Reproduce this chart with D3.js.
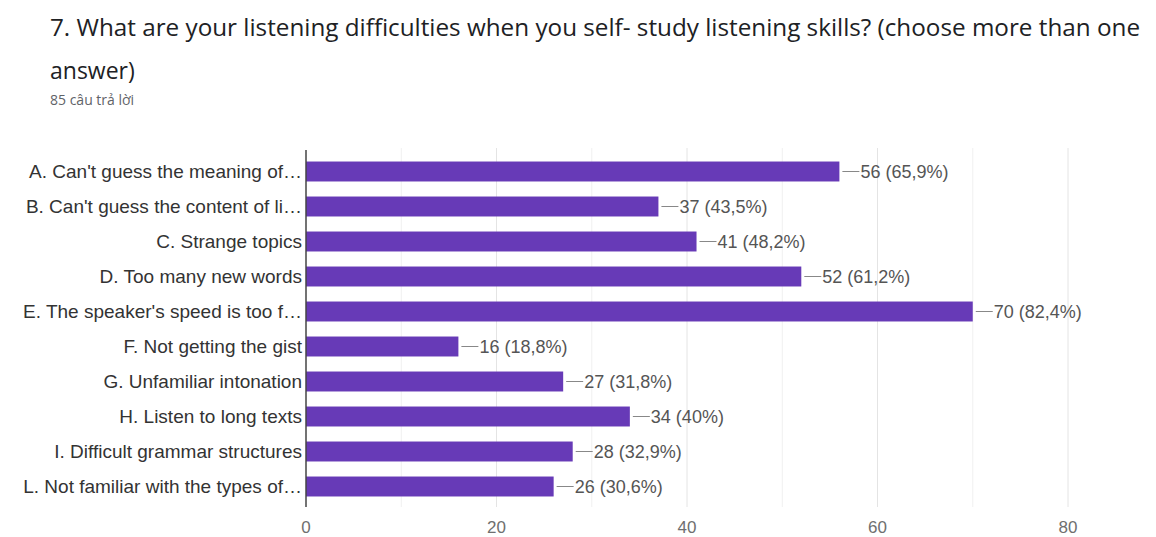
<!DOCTYPE html>
<html>
<head>
<meta charset="utf-8">
<script src="https://cdn.jsdelivr.net/npm/d3@7"></script>
<style>
  body { margin: 0; background: #fff; }
  svg { display: block; }
</style>
</head>
<body>
<script>
// Survey question 7, horizontal bar chart (Google Forms style)
const titleLines = [
  "7. What are your listening difficulties when you self- study listening skills? (choose more than one",
  "answer)"
];
const subtitle = "85 câu trả lời";

const categories = [
  "A. Can't guess the meaning of…",
  "B. Can't guess the content of li…",
  "C. Strange topics",
  "D. Too many new words",
  "E. The speaker's speed is too f…",
  "F. Not getting the gist",
  "G. Unfamiliar intonation",
  "H. Listen to long texts",
  "I. Difficult grammar structures",
  "L. Not familiar with the types of…"
];
const counts = [56, 37, 41, 52, 70, 16, 27, 34, 28, 26];
const percents = ["65,9%", "43,5%", "48,2%", "61,2%", "82,4%", "18,8%", "31,8%", "40%", "32,9%", "30,6%"];
const xTicks = [0, 20, 40, 60, 80];
const gridTicks = [10, 20, 30, 40, 50, 60, 70, 80];

const width = 1156, height = 537;
const BAR_COLOR = "#673ab7";

const svg = d3.select("body").append("svg")
  .attr("width", width).attr("height", height)
  .style("font-family", "'Liberation Sans', Arial, sans-serif");

// Title
svg.append("g").selectAll("text")
  .data(titleLines)
  .join("text")
  .attr("x", 50)
  .attr("y", (d, i) => 36 + i * 43)
  .style("font-family", "'Open Sans', Roboto, sans-serif")
  .style("font-size", "23px")
  .attr("fill", "#202124")
  .each(function(d, i) {
    if (i === 0) d3.select(this).attr("textLength", 1090).attr("lengthAdjust", "spacingAndGlyphs");
  })
  .text(d => d);

svg.append("text")
  .attr("x", 50).attr("y", 105)
  .style("font-family", "'Open Sans', Roboto, sans-serif")
  .style("font-size", "14px")
  .attr("fill", "#5f6368")
  .text(subtitle);

// Scales
const x = d3.scaleLinear().domain([0, 80]).range([306, 1068]);
const y = d3.scaleBand().domain(categories).range([154, 504])
  .paddingInner(0.43).paddingOuter(0.215);

// Grid lines
svg.append("g").selectAll("line")
  .data(gridTicks)
  .join("line")
  .attr("x1", d => x(d)).attr("x2", d => x(d))
  .attr("y1", 148).attr("y2", 507)
  .attr("stroke", d => d % 20 === 0 ? "#e4e4e4" : "#f0f0f0").attr("stroke-width", 1);

// X tick labels
svg.append("g").selectAll("text")
  .data(xTicks)
  .join("text")
  .attr("x", d => x(d)).attr("y", 533)
  .attr("text-anchor", "middle")
  .style("font-size", "17px")
  .attr("fill", "#6f6f6f")
  .text(d => d);

// Bars
svg.append("g").selectAll("rect")
  .data(counts)
  .join("rect")
  .attr("x", x(0))
  .attr("y", (d, i) => y(categories[i]))
  .attr("width", d => x(d) - x(0))
  .attr("height", y.bandwidth())
  .attr("fill", BAR_COLOR);

// Baseline axis
svg.append("line")
  .attr("x1", x(0)).attr("x2", x(0))
  .attr("y1", 150).attr("y2", 507)
  .attr("stroke", "#444").attr("stroke-width", 1.5);

// Category labels
svg.append("g").selectAll("text")
  .data(categories)
  .join("text")
  .attr("x", x(0) - 4)
  .attr("y", d => y(d) + y.bandwidth() / 2)
  .attr("dy", "0.35em")
  .attr("text-anchor", "end")
  .style("font-size", "19px")
  .attr("fill", "#333")
  .text(d => d);

// Value labels with leader lines
const vals = svg.append("g").selectAll("g")
  .data(counts)
  .join("g")
  .attr("transform", (d, i) => `translate(${x(d)},${y(categories[i]) + y.bandwidth() / 2})`);

vals.append("line")
  .attr("x1", 3).attr("x2", 20)
  .attr("stroke", "#888").attr("stroke-width", 1);

vals.append("text")
  .attr("x", 21).attr("dy", "0.35em")
  .style("font-size", "18px")
  .attr("fill", "#555")
  .text((d, i) => `${d} (${percents[i]})`);
</script>
</body>
</html>
